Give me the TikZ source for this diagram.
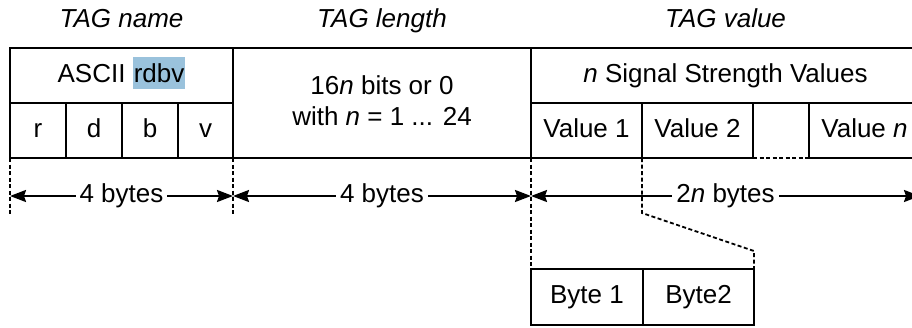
\documentclass[tikz,border=0pt]{standalone}
\usepackage{fontspec}
\setmainfont{Liberation Sans}
\usetikzlibrary{arrows.meta}
\definecolor{hl}{HTML}{9AC2DC}
\begin{document}
\begin{tikzpicture}[x=1pt,y=-1pt,
  every node/.style={font=\fontsize{26}{31}\selectfont, inner sep=0pt, outer sep=0pt},
  cell/.style={draw, line width=2pt, minimum height=55pt, text height=19pt, text depth=5.5pt},
  blank/.style={minimum height=55pt},
  head/.style={font=\fontsize{26}{31}\selectfont\itshape, anchor=base},
  dsh/.style={line width=1.8pt, dash pattern=on 4pt off 2.5pt},
  dim/.style={line width=2pt, {Stealth[length=16pt,width=12pt,inset=2pt]}-{Stealth[length=16pt,width=12pt,inset=2pt]}},
  lab/.style={fill=white, inner xsep=4pt, inner ysep=1pt, text height=19pt, text depth=5.5pt}]
\useasboundingbox (0,0) rectangle (912,327);
\clip (0,0) rectangle (912,327);
% headers
\node[head] (hname) at (121.5,27) {TAG name};
\node[head] (hlen) at (382,27) {TAG length};
\node[head] (hval) at (725.5,27) {TAG value};
% TAG name cells
\node[cell, minimum width=223pt] (ascii) at (121.5,75.5)
  {ASCII {\setlength{\fboxsep}{1pt}\colorbox{hl}{\rule[-6pt]{0pt}{30pt}rdbv}}};
\node[cell, minimum width=56pt] (r) at (38,130.5) {r};
\node[cell, minimum width=56pt] (d) at (94,130.5) {d};
\node[cell, minimum width=56pt] (b) at (150,130.5) {b};
\node[cell, minimum width=55pt] (v) at (205.5,130.5) {v};
% TAG length cell
\node[draw, line width=2pt, minimum width=298pt, minimum height=110pt] (len) at (382,103) {};
\node[anchor=north, align=center] (lentxt) at (382,76) {16\textit{n} bits or 0\\with \textit{n} = 1 ... 24};
% TAG value cells
\node[cell, minimum width=389pt] (sig) at (725.5,75.5) {\textit{n} Signal Strength Values};
\node[cell, minimum width=111pt] (v1) at (586.5,130.5) {Value 1};
\node[cell, minimum width=111pt] (v2) at (697.5,130.5) {Value 2};
\node[blank, minimum width=56pt] (emp) at (781,130.5) {};
\node[cell, minimum width=111pt] (vn) at (864.5,130.5) {Value \textit{n}};
\draw[dsh] (emp.south west) -- (emp.south east);
% byte cells
\node[cell, minimum width=112pt, minimum height=56pt] (by1) at (587,297) {Byte 1};
\node[cell, minimum width=111pt, minimum height=56pt] (by2) at (698.5,297) {Byte2};
% dashed extension lines
\coordinate (e0) at (10,215);
\coordinate (e1) at (233,215);
\coordinate (k1) at (642,213);
\coordinate (k2) at (754,251);
\draw[dsh] (r.south west) -- (e0);
\draw[dsh] (v.south east) -- (e1);
\draw[dsh] (v1.south west) -- (by1.north west);
\draw[dsh] (v1.south east) -- (k1) -- (k2) -- (by2.north east);
% dimension arrows
\coordinate (a0) at (10,196);
\coordinate (a1) at (233,196);
\coordinate (a2) at (531,196);
\coordinate (a3) at (920,196);
\draw[dim] (a0) -- node[lab] (l1) {4 bytes} (a1);
\draw[dim] (a1) -- node[lab] (l2) {4 bytes} (a2);
\draw[dim] (a2) -- node[lab] (l3) {2\textit{n} bytes} (a3);
\end{tikzpicture}
\end{document}
